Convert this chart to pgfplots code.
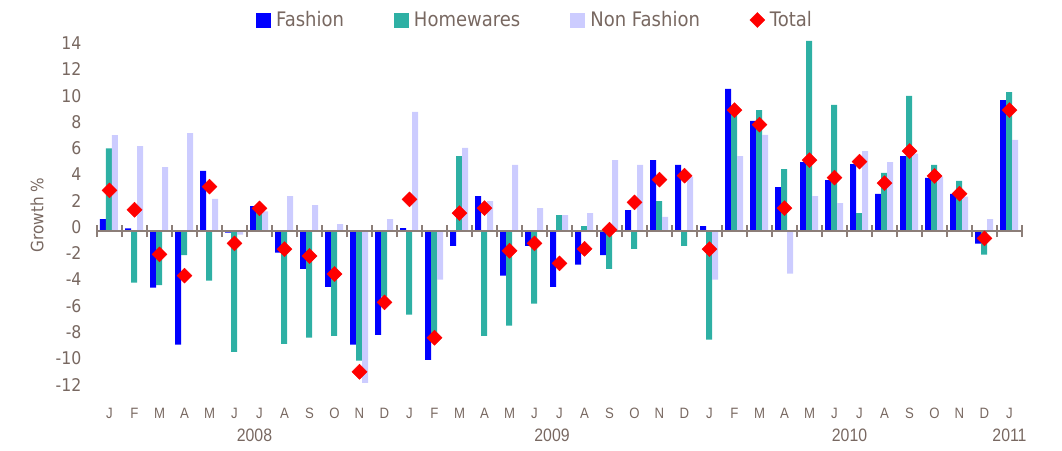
\documentclass[border=0pt]{standalone}
\usepackage{pgfplots}
\pgfplotsset{compat=1.18}
\usepackage{pgfplotstable}
\usepackage{fontspec}
\setmainfont{DejaVu Sans}[FakeStretch=0.9]
\newfontfamily\narrowfont{Liberation Sans}[FakeStretch=0.88]

\definecolor{fashion}{RGB}{0,0,255}
\definecolor{homew}{RGB}{46,176,164}
\definecolor{nonf}{RGB}{204,204,255}
\definecolor{totalc}{RGB}{255,0,0}
\definecolor{txt}{RGB}{120,104,97}
\definecolor{axgray}{RGB}{140,126,120}

\pgfplotstableread{
x F H N T
0 0.9 6.3 7.3 3.1
1 0.2 -3.93 6.47 1.62
2 -4.31 -4.11 4.87 -1.78
3 -8.65 -1.83 7.46 -3.4
4 4.57 -3.78 2.44 3.38
5 -0.13 -9.19 -0.28 -0.94
6 1.9 1.4 1.5 1.73
7 -1.65 -8.58 2.66 -1.37
8 -2.87 -8.12 1.98 -1.9
9 -4.24 -7.97 0.53 -3.27
10 -8.65 -9.87 -11.55 -10.71
11 -7.9 -5.0 0.91 -5.43
12 0.23 -6.37 9.06 2.41
13 -9.8 -8.0 -3.7 -8.12
14 -1.12 5.71 6.32 1.37
15 2.66 -7.97 2.28 1.75
16 -3.4 -7.2 5.03 -1.5
17 -1.12 -5.53 1.75 -0.94
18 -4.24 1.22 1.22 -2.46
19 -2.56 0.38 1.37 -1.35
20 -1.83 -2.87 5.4 0.1
21 1.6 -1.35 5.03 2.18
22 5.4 2.28 1.07 3.91
23 5.03 -1.12 4.14 4.21
24 0.38 -8.27 -3.7 -1.37
25 10.81 9.2 5.71 9.2
26 8.38 9.2 7.31 8.1
27 3.35 4.72 -3.25 1.75
28 5.25 14.47 2.66 5.4
29 3.88 9.6 2.13 4.06
30 5.1 1.37 6.09 5.28
31 2.82 4.42 5.25 3.65
32 5.71 10.28 5.9 6.09
33 4.04 5.03 4.14 4.19
34 2.82 3.81 2.61 2.84
35 -0.96 -1.8 0.91 -0.56
36 9.97 10.58 6.93 9.2
}\datatable

\pgfplotsset{common/.style={scale only axis, width=925pt, height=357.4pt,
  xmin=-0.5, xmax=36.5, ymin=-12.6, ymax=14.6,
  at={(97pt,53.4pt)}, anchor=south west}}

\begin{document}
\begin{tikzpicture}
\path[use as bounding box] (0,0) rectangle (1062pt,450pt);
% bars, tick labels, legend
\begin{axis}[common,
  axis line style={draw=none},
  major tick length=0pt,
  xtick={0,...,36},
  xticklabels={J,F,M,A,M,J,J,A,S,O,N,D,J,F,M,A,M,J,J,A,S,O,N,D,J,F,M,A,M,J,J,A,S,O,N,D,J},
  xticklabel style={font=\narrowfont\fontsize{15}{15}\selectfont, text=txt, anchor=base, yshift=-21.7pt},
  extra x ticks={5.8,17.7,29.6,36},
  extra x tick labels={2008,2009,2010,2011},
  extra x tick style={xticklabel style={font=\narrowfont\fontsize{18}{18}\selectfont, yshift=-23.3pt}},
  ytick={-12,-10,...,14},
  yticklabel style={font=\fontsize{17.5}{17.5}\selectfont, text=txt, xshift=-12pt, yshift=4pt},
  /pgf/number format/assume math mode=true,
  ylabel={Growth \%},
  ylabel style={font=\fontsize{17}{17}\selectfont, text=txt, at={(axis description cs:-0.0649,0.508)}, anchor=center},
  legend style={at={(axis description cs:0.4735,1.0537)}, anchor=center, draw=none, fill=none,
    font=\fontsize{20}{20}\selectfont, text=txt,
    /tikz/every odd column/.style={column sep=3pt},
    /tikz/every even column/.style={column sep=48pt}},
  legend columns=-1,
  legend cell align=left,
]
\addplot[ybar, bar width=6pt, bar shift=-6.5pt, fill=fashion, draw=none,
  legend image code/.code={\fill[fashion] (0pt,-7.5pt) rectangle (15pt,7.5pt);}]
  table[x=x, y=F]{\datatable};
\addlegendentry{Fashion}
\addplot[ybar, bar width=6pt, bar shift=-0.5pt, fill=homew, draw=none,
  legend image code/.code={\fill[homew] (0pt,-7.5pt) rectangle (15pt,7.5pt);}]
  table[x=x, y=H]{\datatable};
\addlegendentry{Homewares}
\addplot[ybar, bar width=6pt, bar shift=5.5pt, fill=nonf, draw=none,
  legend image code/.code={\fill[nonf] (0pt,-7.5pt) rectangle (15pt,7.5pt);}]
  table[x=x, y=N]{\datatable};
\addlegendentry{Non Fashion}
\addlegendimage{only marks, mark=square*, mark size=5.3pt, mark options={rotate=45, fill=totalc, draw=totalc}, color=totalc}
\addlegendentry{Total}
\end{axis}
% zero line with category separators
\begin{axis}[common,
  axis x line=middle, axis y line=none,
  x axis line style={-, line width=2.5pt, color=axgray},
  xtick={-0.5,0.5,...,36.5}, xticklabels={},
  tick align=center, major tick length=12pt,
  xtick style={axgray, line width=2pt},
  ytick=\empty,
]
\end{axis}
% total markers
\begin{axis}[common, hide axis]
\addplot[only marks, mark=square*, mark size=5.3pt, mark options={rotate=45, fill=totalc, draw=totalc}, color=totalc]
  table[x=x, y=T]{\datatable};
\end{axis}
\end{tikzpicture}
\end{document}
